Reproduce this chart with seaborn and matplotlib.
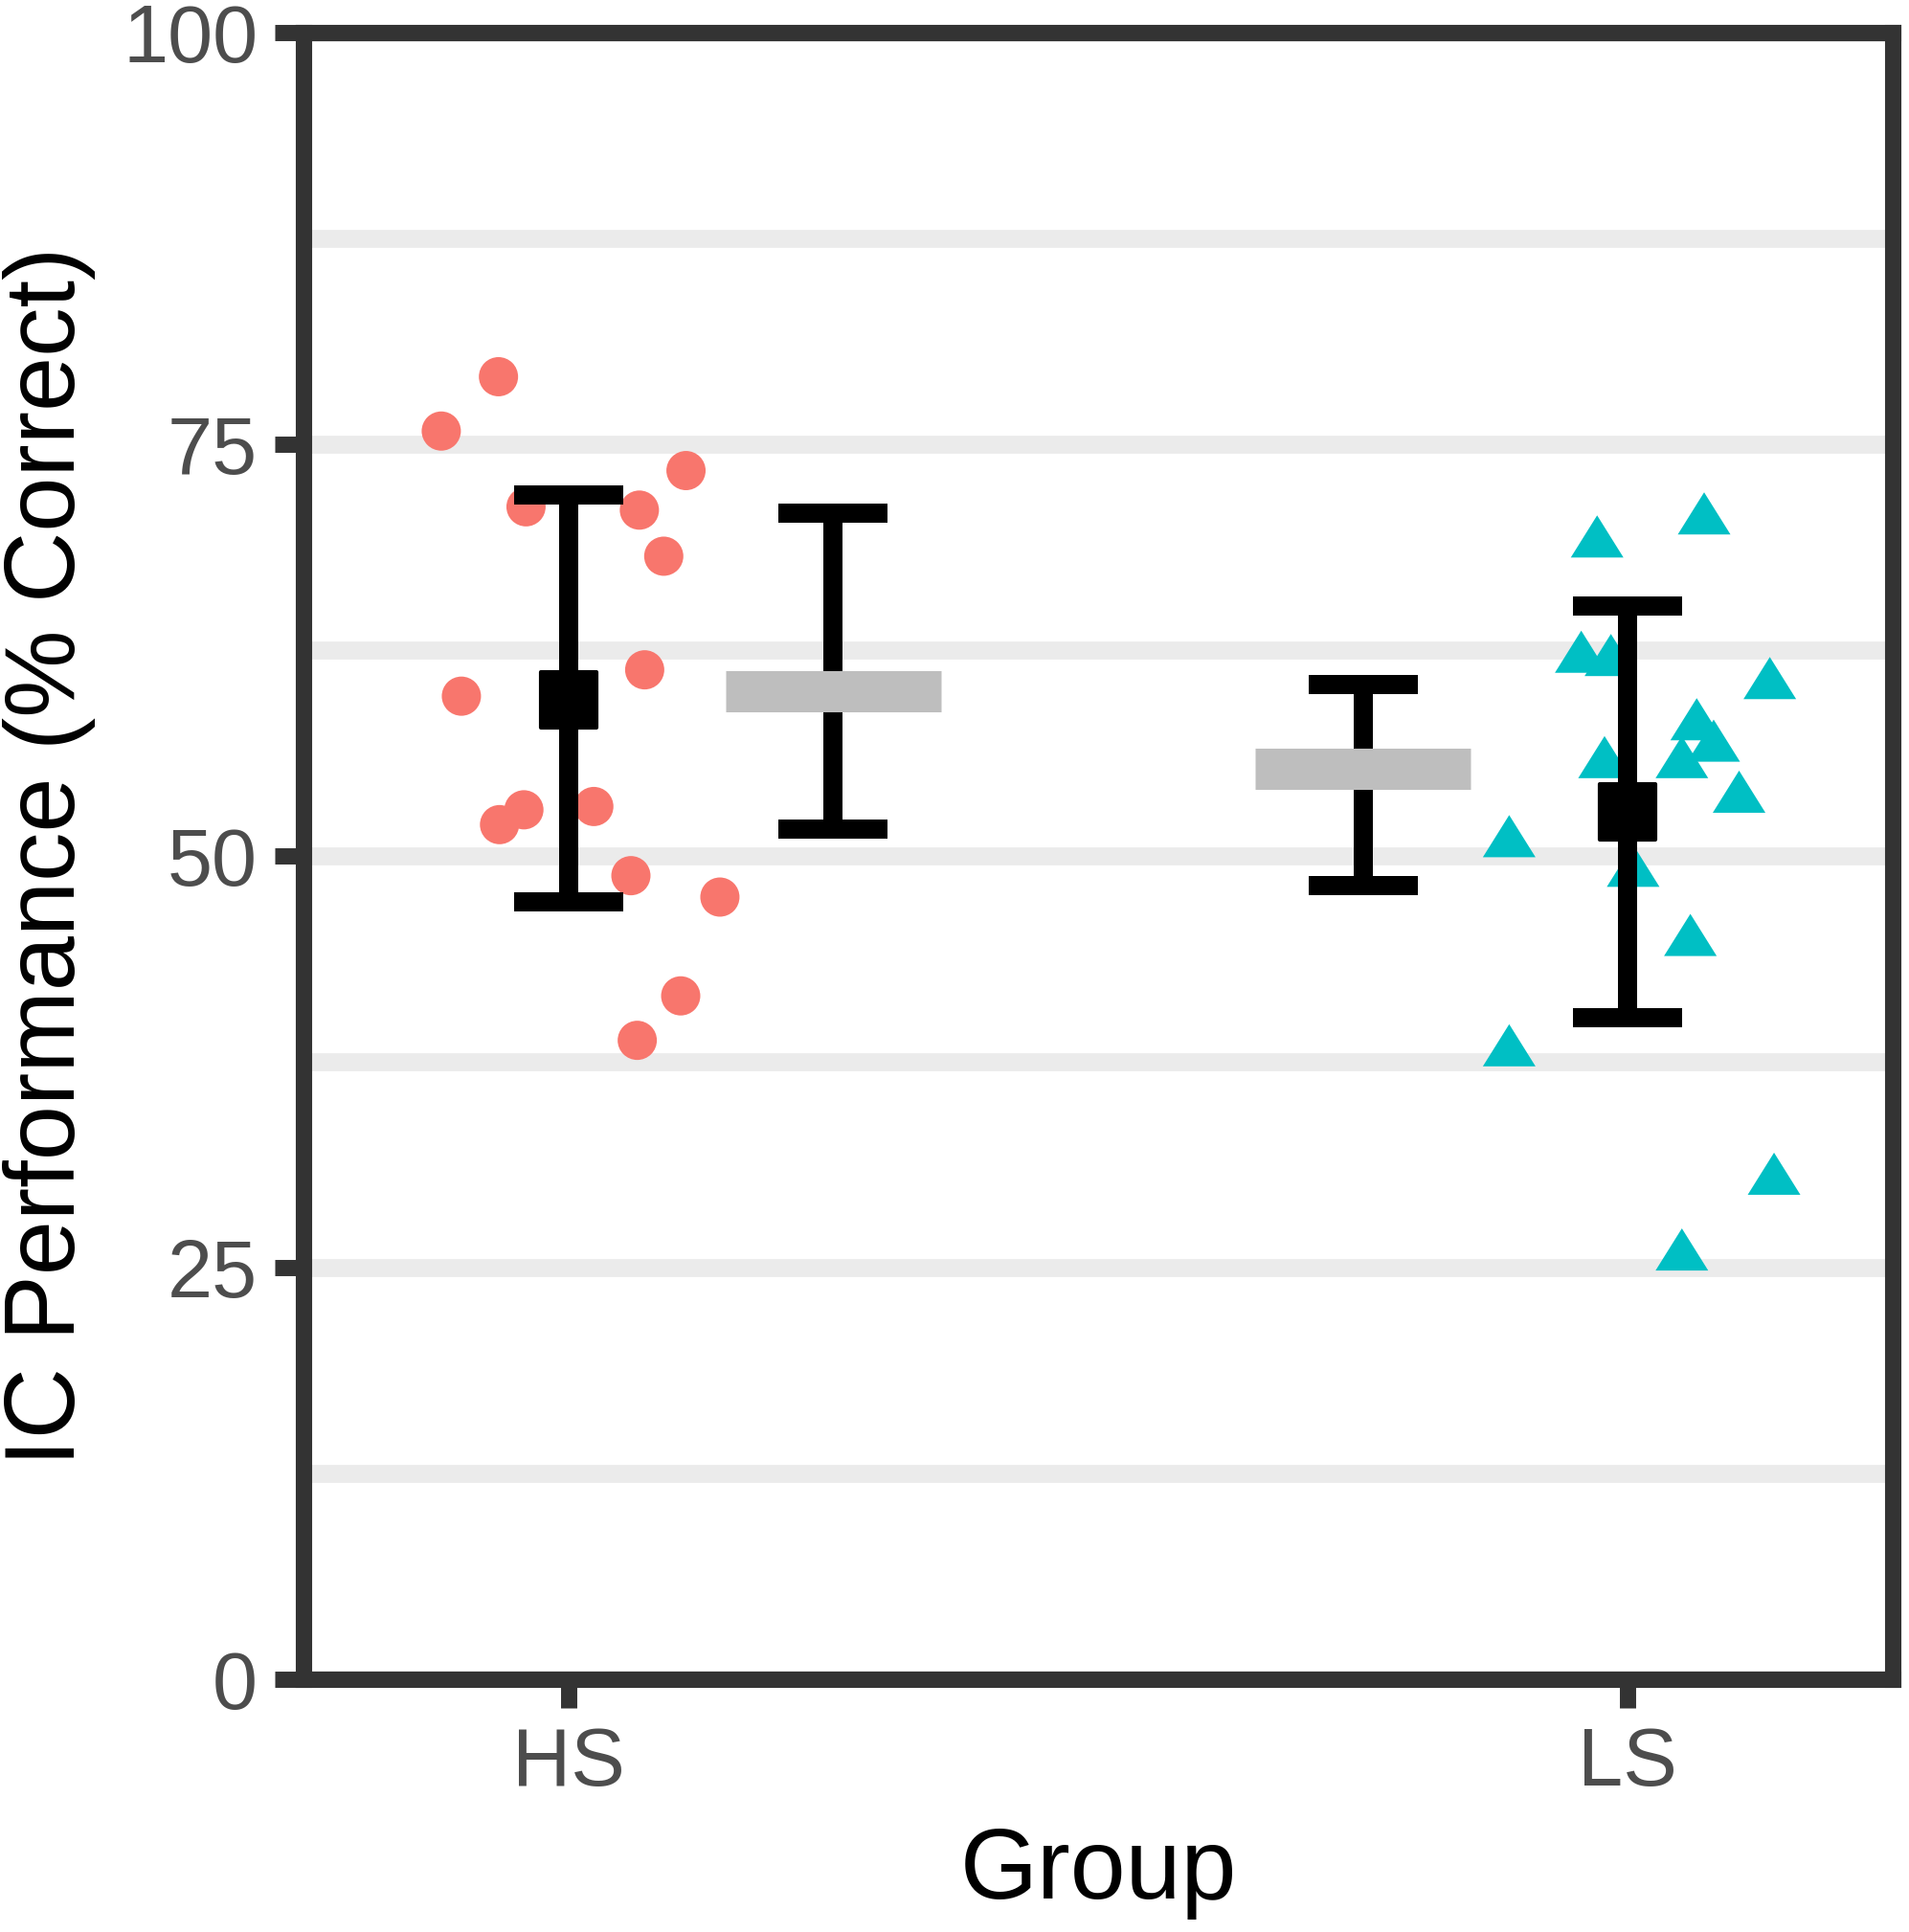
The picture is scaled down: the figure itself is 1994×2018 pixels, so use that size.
import numpy as np
import pandas as pd
import matplotlib
matplotlib.use("Agg")
import matplotlib.pyplot as plt
import seaborn as sns

# ---------------- data ----------------
groups = ["HS", "LS"]

hs_scores = [79.1, 75.8, 73.4, 71.2, 71.0, 68.2, 61.3, 59.7, 52.8, 51.9,
             53.0, 48.8, 47.5, 41.5, 38.8]
hs_jitter = [-0.066, -0.120, 0.111, -0.040, 0.067, 0.090, 0.072, -0.101,
             -0.042, -0.065, 0.024, 0.059, 0.143, 0.106, 0.065]

ls_scores = [69.4, 70.8, 60.8, 62.4, 62.2, 56.0, 58.3, 57.0, 56.0, 53.9,
             51.2, 49.4, 45.2, 38.5, 30.7, 26.1]
ls_jitter = [-0.029, 0.072, 0.134, -0.044, -0.016, -0.022, 0.065, 0.081,
             0.051, 0.105, -0.112, 0.005, 0.059, -0.112, 0.138, 0.051]

# observed mean +/- spread (black)
obs_mean = [59.5, 52.7]
obs_lo = [47.2, 40.2]
obs_hi = [71.9, 65.2]

# model estimate with interval (grey)
est_mean = [60.0, 55.3]
est_lo = [51.6, 48.2]
est_hi = [70.8, 60.4]

y_ticks = [0, 25, 50, 75, 100]
y_minor = [12.5, 37.5, 62.5, 87.5]
x_label = "Group"
y_label = "IC Performance (% Correct)"

# ---------------- build tables ----------------
group_pos = {g: i + 1 for i, g in enumerate(groups)}
pts = pd.DataFrame({
    "Group": ["HS"] * len(hs_scores) + ["LS"] * len(ls_scores),
    "score": hs_scores + ls_scores,
    "jitter": hs_jitter + ls_jitter,
})
pts["xpos"] = pts["Group"].map(group_pos) + pts["jitter"]

summ = pd.DataFrame({"Group": groups, "obs_mean": obs_mean, "obs_lo": obs_lo,
                     "obs_hi": obs_hi, "est_mean": est_mean, "est_lo": est_lo,
                     "est_hi": est_hi})
summ["obs_x"] = summ["Group"].map(group_pos).astype(float)
est_offset = {"HS": 0.25, "LS": -0.25}
summ["est_x"] = summ["obs_x"] + summ["Group"].map(est_offset)

# ---------------- style ----------------
sns.set_theme(style="white")
plt.rcParams["font.family"] = ["Liberation Sans", "DejaVu Sans"]

DPI = 100
fig = plt.figure(figsize=(19.94, 20.18), dpi=DPI)
ax = fig.add_axes([0.1590, 0.13082, 0.99147 - 0.1590, 0.98315 - 0.13082])

red = "#F8766D"
teal = "#00BFC4"
tri = [(0, 0.8), (-1, -0.8), (1, -0.8)]

sns.scatterplot(data=pts, x="xpos", y="score", hue="Group", style="Group",
                palette={"HS": red, "LS": teal},
                markers={"HS": "o", "LS": tri},
                size="Group", sizes={"HS": 870, "LS": 1570},
                linewidth=0, legend=False, ax=ax, zorder=2)

# observed error bars (black)
ax.errorbar(summ["obs_x"], summ["obs_mean"],
            yerr=[summ["obs_mean"] - summ["obs_lo"], summ["obs_hi"] - summ["obs_mean"]],
            fmt="none", ecolor="black", elinewidth=14.4, capsize=41,
            capthick=14.4, zorder=3)
# model error bars (black) + grey estimate bar
ax.errorbar(summ["est_x"], summ["est_mean"],
            yerr=[summ["est_mean"] - summ["est_lo"], summ["est_hi"] - summ["est_mean"]],
            fmt="none", ecolor="black", elinewidth=14.4, capsize=41,
            capthick=14.4, zorder=3)
ax.hlines(summ["est_mean"], summ["est_x"] - 0.1017, summ["est_x"] + 0.1017,
          colors="#BEBEBE", linewidth=31, capstyle="butt", zorder=4)
sns.scatterplot(data=summ, x="obs_x", y="obs_mean", marker="s", color="black",
                s=42 ** 2, edgecolor="black", linewidth=3, legend=False,
                ax=ax, zorder=5)

# ---------------- axes ----------------
ax.set_xlim(0.75, 2.25)
ax.set_ylim(0, 100)
ax.set_xticks([group_pos[g] for g in groups])
ax.set_xticklabels(groups)
ax.set_yticks(y_ticks)
ax.set_yticklabels([str(t) for t in y_ticks])
ax.set_yticks(y_minor, minor=True)

ax.set_axisbelow(True)
ax.grid(False)
ax.yaxis.grid(True, which="both", color="#EBEBEB", linewidth=13.5)
ax.xaxis.grid(False)

for sp in ax.spines.values():
    sp.set_visible(True)
    sp.set_color("#333333")
    sp.set_linewidth(12.3)

ax.tick_params(axis="both", which="major", direction="out", length=21.5,
               width=12.2, color="#333333", labelcolor="#4D4D4D",
               labelsize=61, pad=13)
ax.tick_params(axis="y", which="minor", length=0)
ax.tick_params(axis="x", which="major", pad=14)
ax.tick_params(left=True, bottom=True)

ax.set_xlabel(x_label, fontsize=75, color="black", labelpad=18)
ax.set_ylabel(y_label, fontsize=74, color="black", labelpad=20)

fig.savefig("out.png", dpi=DPI, facecolor="white")
